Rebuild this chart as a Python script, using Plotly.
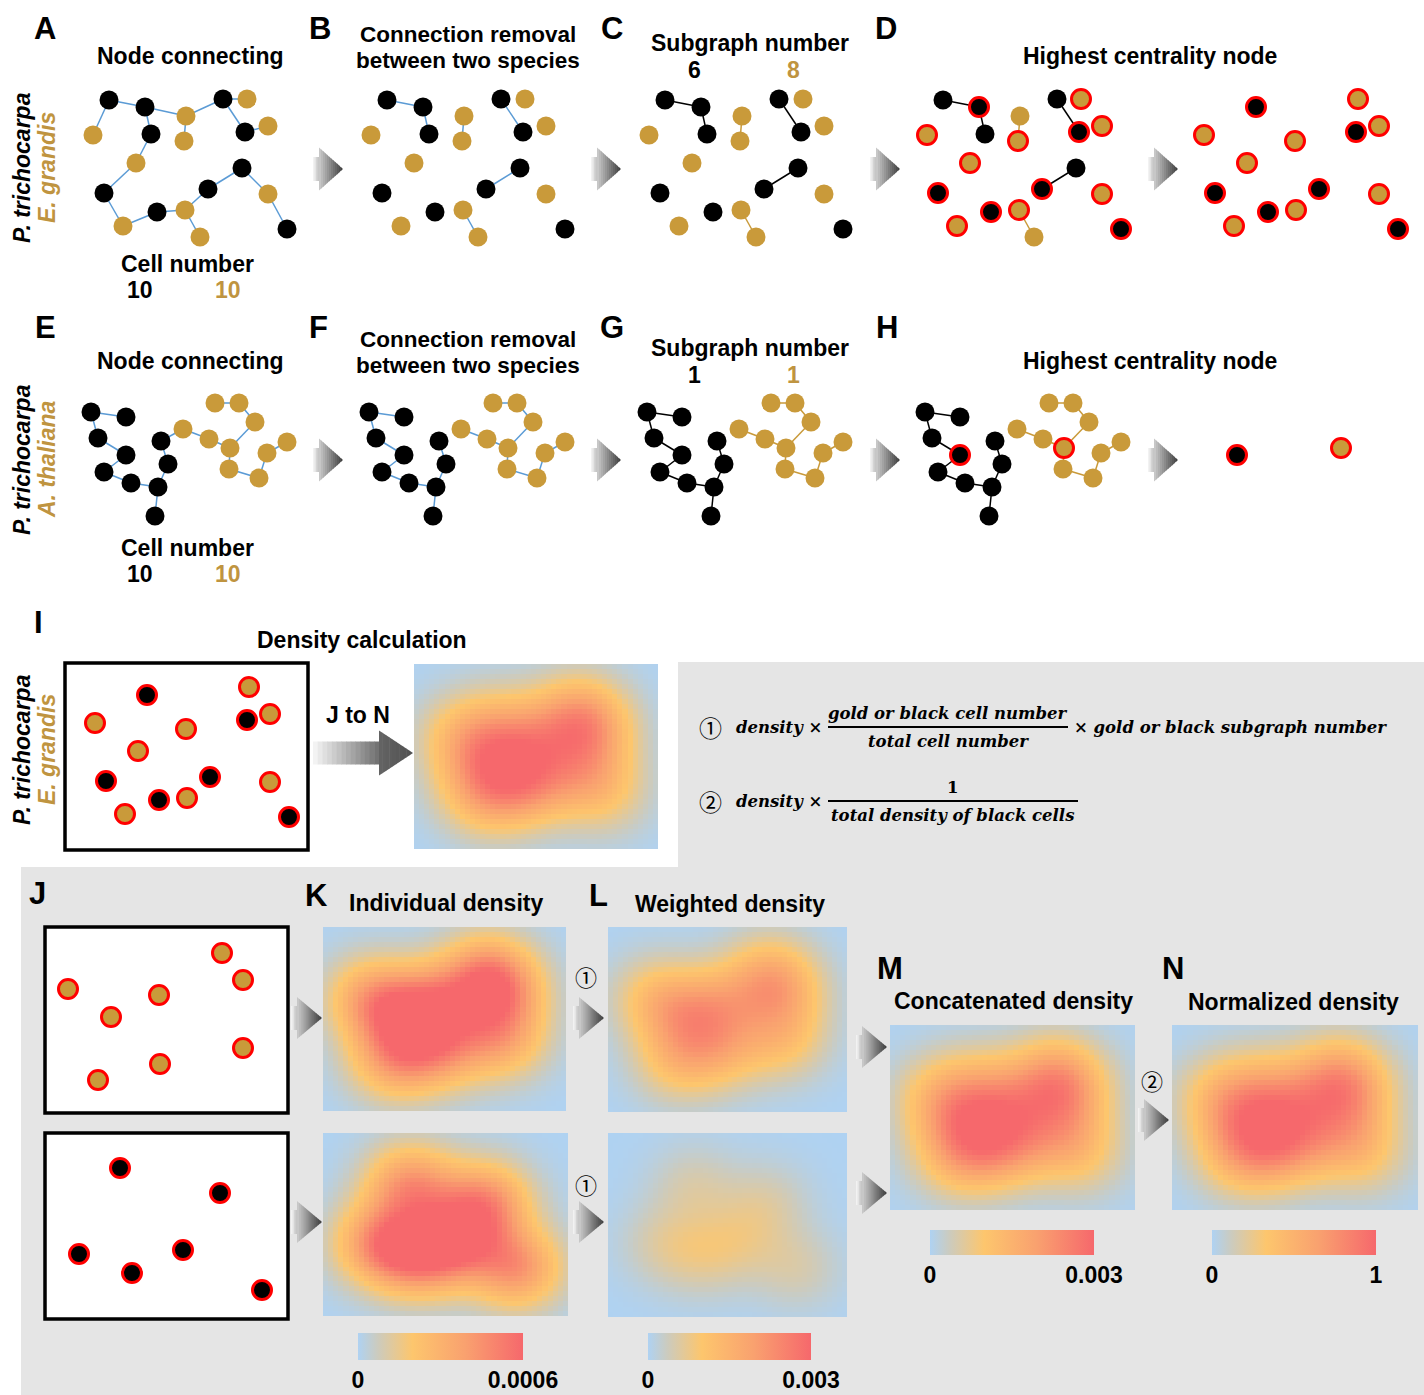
import numpy as np
import plotly.graph_objects as go

W, H = 1424, 1395
SANS = "Liberation Sans, Arial, sans-serif"
SERIF = "DejaVu Serif, serif"
CIRC = "Noto Sans CJK SC, DejaVu Sans, sans-serif"

GOLD = "#c99a3a"
GOLD_TXT = "#bf9440"
EDGE_BLUE = "#5b9bd5"
RING = "#ff0000"
BG_GREY = "#e5e5e5"

# ---------------------------------------------------------------------------
# Network 1: P. trichocarpa (black) + E. grandis (gold)
net1_black_x = [109, 145, 151, 223, 245, 104, 157, 208, 242, 287]
net1_black_y = [100, 107, 134, 99, 132, 193, 212, 189, 168, 229]
net1_gold_x = [93, 186, 184, 136, 247, 268, 123, 185, 200, 268]
net1_gold_y = [135, 116, 141, 163, 99, 126, 226, 210, 237, 194]
net1_edges = ["b0-g0", "b0-b1", "b1-g1", "b1-b2", "g1-g2", "g1-b3", "b3-g4",
              "b3-b4", "b4-g5", "b2-g3", "g3-b5", "b5-g6", "g6-b6", "b6-g7",
              "g7-g8", "g7-b7", "b7-b8", "b8-g9", "g9-b9"]
net1_hub_black = [1, 4, 5, 6, 7, 9]
net1_hub_gold = [0, 2, 3, 4, 5, 6, 7, 9]

# Network 2: P. trichocarpa (black) + A. thaliana (gold)
net2_black_x = [91, 126, 98, 161, 126, 104, 168, 131, 158, 155]
net2_black_y = [412, 417, 438, 441, 455, 472, 464, 483, 487, 516]
net2_gold_x = [215, 239, 255, 183, 209, 230, 287, 267, 229, 259]
net2_gold_y = [403, 403, 422, 429, 439, 448, 442, 453, 469, 478]
net2_edges = ["b0-b1", "b0-b2", "b2-b4", "b4-b5", "b5-b7", "b7-b8", "b8-b6",
              "b6-b3", "b8-b9", "b3-g3", "g0-g1", "g1-g2", "g2-g5", "g3-g4",
              "g4-g5", "g5-g8", "g8-g9", "g9-g7", "g7-g6"]
net2_hub_black = [4]
net2_hub_gold = [5]

# Horizontal offsets of the five pipeline stages
stage_dx = [0, 278, 556, 834, 1111]

# Density maps: peak value of each map in colour-bar units
individual_peak = [0.00082, 0.00082]   # gold, black
weighted_peak = [0.0026, 0.0009]       # gold, black
total_black_density = 0.003
kde_sigma = 42.0      # kernel width, box pixels
kde_pad = 42.0        # margin shown around the box, box pixels

COLORSCALE = [[0.0, "#afd2f2"], [0.12, "#cccbbe"], [0.33, "#fdc66d"],
              [0.65, "#f9a16f"], [1.0, "#f6686c"]]

fig = go.Figure()
shapes = []
annotations = []


def txt(x, y, s, size=23, color="black", bold=True, italic=False, angle=0,
        family=SANS, xanchor="center"):
    if italic:
        s = f"<i>{s}</i>"
    if bold:
        s = f"<b>{s}</b>"
    annotations.append(dict(x=x, y=y, xref="x", yref="y", text=s, showarrow=False,
                            textangle=angle, xanchor=xanchor, yanchor="middle",
                            font=dict(family=family, size=size, color=color)))


def grey(v):
    v = int(round(v))
    return f"rgb({v},{v},{v})"


def arrow(x0, yc, stem_w=6, head_w=24, h=43, stem_h=24, stem_rng=(250, 190),
          head_rng=(205, 60), n_stem=4, n_head=12):
    for k in range(n_stem):
        xa = x0 + stem_w * k / n_stem
        xb = x0 + stem_w * (k + 1) / n_stem + 0.5
        v = stem_rng[0] + (stem_rng[1] - stem_rng[0]) * (k + 0.5) / n_stem
        shapes.append(dict(type="rect", xref="x", yref="y", x0=xa, x1=xb,
                           y0=yc - stem_h / 2, y1=yc + stem_h / 2,
                           fillcolor=grey(v), line=dict(width=0), layer="above"))
    base = x0 + stem_w
    for k in range(n_head):
        xa = base + head_w * k / n_head
        xb = min(base + head_w * (k + 1) / n_head + 0.5, base + head_w)
        ha = h / 2 * (1 - (xa - base) / head_w)
        hb = h / 2 * (1 - (xb - base) / head_w)
        v = head_rng[0] + (head_rng[1] - head_rng[0]) * (k + 0.5) / n_head
        path = (f"M{xa:.2f},{yc - ha:.2f} L{xb:.2f},{yc - hb:.2f} "
                f"L{xb:.2f},{yc + hb:.2f} L{xa:.2f},{yc + ha:.2f} Z")
        shapes.append(dict(type="path", xref="x", yref="y", path=path,
                           fillcolor=grey(v), line=dict(width=0), layer="above"))


def count_components(n, edges, species):
    parent = list(range(n))

    def find(a):
        while parent[a] != a:
            parent[a] = parent[parent[a]]
            a = parent[a]
        return a

    for e in edges:
        a, b = e.split("-")
        if a[0] == species and b[0] == species:
            parent[find(int(a[1:]))] = find(int(b[1:]))
    return len({find(i) for i in range(n)})


def add_nodes(xs, ys, fill, ring):
    fig.add_trace(go.Scatter(
        x=xs, y=ys, mode="markers", hoverinfo="skip", cliponaxis=False,
        marker=dict(size=19, color=fill,
                    line=dict(color=RING if ring else fill, width=3 if ring else 0))))


def draw_network(bx, by, gx, gy, edges, hub_b, hub_g, dx, stage):
    pts = {"b": (bx, by), "g": (gx, gy)}

    def pos(tok):
        s, i = tok[0], int(tok[1:])
        return pts[s][0][i] + dx, pts[s][1][i]

    if stage < 4:
        segs = {}
        for e in edges:
            a, b = e.split("-")
            same = a[0] == b[0]
            if stage >= 1 and not same:
                continue
            col = EDGE_BLUE if stage <= 1 else ("black" if a[0] == "b" else GOLD)
            (x1, y1), (x2, y2) = pos(a), pos(b)
            sx, sy = segs.setdefault(col, ([], []))
            sx += [x1, x2, None]
            sy += [y1, y2, None]
        for col, (sx, sy) in segs.items():
            fig.add_trace(go.Scatter(x=sx, y=sy, mode="lines", hoverinfo="skip",
                                     line=dict(color=col, width=1.5)))
    for sp, fill, hubs in (("b", "black", hub_b), ("g", GOLD, hub_g)):
        xs, ys = pts[sp]
        n = len(xs)
        plain = [i for i in range(n) if stage < 3 or (stage == 3 and i not in hubs)]
        ringed = [] if stage < 3 else list(hubs)
        if plain:
            add_nodes([xs[i] + dx for i in plain], [ys[i] for i in plain], fill, False)
        if ringed:
            add_nodes([xs[i] + dx for i in ringed], [ys[i] for i in ringed], fill, True)


def kde(px, py, w, h, nx=48, ny=37, sigma=kde_sigma, pad=kde_pad):
    xs = -pad + (np.arange(nx) + 0.5) * (w + 2 * pad) / nx
    ys = -pad + (np.arange(ny) + 0.5) * (h + 2 * pad) / ny
    X, Y = np.meshgrid(xs, ys)
    z = np.zeros_like(X)
    for x, y in zip(px, py):
        z += np.exp(-((X - x) ** 2 + (Y - y) ** 2) / (2 * sigma ** 2))
    return z / (2 * np.pi * sigma ** 2)


def heat(z, x0, y0, x1, y1, zmax, cbar=None):
    ny, nx = z.shape
    dx = (x1 - x0) / nx
    dy = (y1 - y0) / ny
    tr = go.Heatmap(z=z, x0=x0 + dx / 2, dx=dx, y0=y0 + dy / 2, dy=dy,
                    zmin=0, zmax=zmax, colorscale=COLORSCALE, hoverinfo="skip",
                    showscale=cbar is not None)
    if cbar is not None:
        cx, top, length, thick, label = cbar
        tr.colorbar = dict(orientation="h", x=cx / W, xanchor="center",
                           y=1 - top / H, yanchor="top", lenmode="pixels", len=length,
                           thicknessmode="pixels", thickness=thick, outlinewidth=0,
                           xpad=0, ypad=0, ticks="", tickvals=[0, zmax],
                           ticktext=["<b>0</b>", f"<b>{label}</b>"],
                           tickfont=dict(family=SANS, size=23, color="black"))
    fig.add_trace(tr)


# ---------------------------------------------------------------------------
# Grey backdrop of the density part
shapes.append(dict(type="path", xref="x", yref="y", layer="below",
                   path="M678,662 L1424,662 L1424,1395 L21,1395 L21,867 L678,867 Z",
                   fillcolor=BG_GREY, line=dict(width=0)))

# Boxes with the highest-centrality nodes
box_I = (65, 663, 308, 850)
box_J1 = (45, 927, 288, 1113)
box_J2 = (45, 1133, 288, 1319)
for bx0, by0, bx1, by1 in (box_I, box_J1, box_J2):
    shapes.append(dict(type="rect", xref="x", yref="y", x0=bx0, y0=by0, x1=bx1, y1=by1,
                       fillcolor="white", line=dict(color="black", width=3.5),
                       layer="below"))

# ---------------------------------------------------------------------------
# Density maps (K-N, I)
hub_gold_x = [net1_gold_x[i] for i in net1_hub_gold]
hub_gold_y = [net1_gold_y[i] for i in net1_hub_gold]
hub_black_x = [net1_black_x[i] for i in net1_hub_black]
hub_black_y = [net1_black_y[i] for i in net1_hub_black]

J_off1 = (-25, 854)
J_off2 = (-25, 1061)
I_off = (2, 588)

bw = box_J1[2] - box_J1[0]
bh = box_J1[3] - box_J1[1]
gold_rel_x = [x + J_off1[0] - box_J1[0] for x in hub_gold_x]
gold_rel_y = [y + J_off1[1] - box_J1[1] for y in hub_gold_y]
black_rel_x = [x + J_off2[0] - box_J2[0] for x in hub_black_x]
black_rel_y = [y + J_off2[1] - box_J2[1] for y in hub_black_y]

kg = kde(gold_rel_x, gold_rel_y, bw, bh)
kb = kde(black_rel_x, black_rel_y, bw, bh)
K_gold = kg / kg.max() * individual_peak[0]
K_black = kb / kb.max() * individual_peak[1]
L_gold = K_gold / K_gold.max() * weighted_peak[0]
L_black = K_black / K_black.max() * weighted_peak[1]
M_concat = L_gold + L_black
N_norm = M_concat / total_black_density

heat(K_gold, 323, 927, 566, 1111, 0.0006, cbar=(440.5, 1333, 165, 27, "0.0006"))
heat(K_black, 323, 1133, 568, 1316, 0.0006)
heat(L_gold, 608, 927, 847, 1112, 0.003, cbar=(729.5, 1333, 163, 27, "0.003"))
heat(L_black, 608, 1133, 847, 1317, 0.003)
heat(M_concat, 890, 1025, 1135, 1210, 0.003, cbar=(1012, 1230, 164, 25, "0.003"))
heat(N_norm, 1172, 1025, 1418, 1210, 1.0, cbar=(1294, 1230, 164, 25, "1"))
heat(N_norm, 414, 664, 658, 849, 1.0)

# ---------------------------------------------------------------------------
# Networks, rows A-D and E-H
for st, dx in enumerate(stage_dx):
    draw_network(net1_black_x, net1_black_y, net1_gold_x, net1_gold_y, net1_edges,
                 net1_hub_black, net1_hub_gold, dx, st)
    draw_network(net2_black_x, net2_black_y, net2_gold_x, net2_gold_y, net2_edges,
                 net2_hub_black, net2_hub_gold, dx, st)

# Points inside the I and J boxes
add_nodes([x + I_off[0] for x in hub_gold_x], [y + I_off[1] for y in hub_gold_y], GOLD, True)
add_nodes([x + I_off[0] for x in hub_black_x], [y + I_off[1] for y in hub_black_y], "black", True)
add_nodes([x + J_off1[0] for x in hub_gold_x], [y + J_off1[1] for y in hub_gold_y], GOLD, True)
add_nodes([x + J_off2[0] for x in hub_black_x], [y + J_off2[1] for y in hub_black_y], "black", True)

# ---------------------------------------------------------------------------
# Arrows
for x0 in (313, 591, 870, 1148):
    arrow(x0, 169)
    arrow(x0, 460)
for x0, yc in ((291, 1018), (291, 1222), (573, 1018), (573, 1222),
               (856, 1047), (856, 1193), (1138, 1120)):
    arrow(x0, yc, stem_w=6, head_w=25, h=42)
arrow(313, 753, stem_w=66, head_w=34, h=45, stem_h=23, stem_rng=(248, 110),
      head_rng=(100, 80), n_stem=14, n_head=10)

# ---------------------------------------------------------------------------
# Texts
for s, x, y in (("A", 45, 28), ("B", 320, 28), ("C", 612, 28), ("D", 886, 28),
                ("E", 45, 327), ("F", 318, 327), ("G", 612, 327), ("H", 887, 327),
                ("I", 38, 622), ("J", 37, 893), ("K", 316, 895), ("L", 598, 895),
                ("M", 890, 968), ("N", 1173, 968)):
    txt(x, y, s, size=31)

sub1 = (count_components(len(net1_black_x), net1_edges, "b"),
        count_components(len(net1_gold_x), net1_edges, "g"))
sub2 = (count_components(len(net2_black_x), net2_edges, "b"),
        count_components(len(net2_gold_x), net2_edges, "g"))

for row_y, cells, subs in ((0, (len(net1_black_x), len(net1_gold_x)), sub1),
                           (305, (len(net2_black_x), len(net2_gold_x)), sub2)):
    txt(190, 56 + row_y, "Node connecting")
    txt(468, 34 + row_y, "Connection removal", size=22.5)
    txt(468, 60 + row_y, "between two species", size=22.5)
    txt(750, 43 + row_y, "Subgraph number")
    txt(694, 70 + row_y, str(subs[0]))
    txt(793, 70 + row_y, str(subs[1]), color=GOLD_TXT)
    txt(1150, 56 + row_y, "Highest centrality node")
    cy = 264 if row_y == 0 else 548
    txt(187, cy, "Cell number")
    txt(140, cy + 26, str(cells[0]))
    txt(228, cy + 26, str(cells[1]), color=GOLD_TXT)

txt(22, 168, "P. trichocarpa", italic=True, angle=-90)
txt(47, 168, "E. grandis", italic=True, angle=-90, color=GOLD_TXT)
txt(22, 460, "P. trichocarpa", italic=True, angle=-90)
txt(47, 459, "A. thaliana", italic=True, angle=-90, color=GOLD_TXT)
txt(22, 750, "P. trichocarpa", italic=True, angle=-90)
txt(47, 750, "E. grandis", italic=True, angle=-90, color=GOLD_TXT)

txt(362, 640, "Density calculation")
txt(358, 715, "J to N")
txt(446, 903, "Individual density")
txt(730, 904, "Weighted density")
txt(1013, 1001, "Concatenated density")
txt(1293, 1002, "Normalized density")

# Formulas
FS = 16.5
txt(710, 727, "\u2460", size=23, bold=False, family=CIRC)
txt(824, 727, "density \u00d7", size=FS, italic=True, family=SERIF, xanchor="right")
txt(948, 713, "gold or black cell number", size=FS, italic=True, family=SERIF)
txt(948, 741, "total cell number", size=FS, italic=True, family=SERIF)
txt(1072, 727, "\u00d7 gold or black subgraph number", size=FS, italic=True,
    family=SERIF, xanchor="left")
shapes.append(dict(type="line", xref="x", yref="y", x0=828, x1=1068, y0=727, y1=727,
                   line=dict(color="black", width=2)))

txt(710, 801, "\u2461", size=23, bold=False, family=CIRC)
txt(824, 801, "density \u00d7", size=FS, italic=True, family=SERIF, xanchor="right")
txt(952, 787, "1", size=FS, italic=False, family=SERIF)
txt(952, 815, "total density of black cells", size=FS, italic=True, family=SERIF)
shapes.append(dict(type="line", xref="x", yref="y", x0=828, x1=1078, y0=801, y1=801,
                   line=dict(color="black", width=2)))

txt(586, 976, "\u2460", size=22, bold=False, family=CIRC)
txt(586, 1184, "\u2460", size=22, bold=False, family=CIRC)
txt(1152, 1080, "\u2461", size=22, bold=False, family=CIRC)

fig.update_layout(
    width=W, height=H, margin=dict(l=0, r=0, t=0, b=0),
    paper_bgcolor="white", plot_bgcolor="white", showlegend=False,
    xaxis=dict(range=[0, W], visible=False, fixedrange=True),
    yaxis=dict(range=[H, 0], visible=False, fixedrange=True),
    shapes=shapes, annotations=annotations,
)

fig.write_html("out.html", config={"displayModeBar": False})
